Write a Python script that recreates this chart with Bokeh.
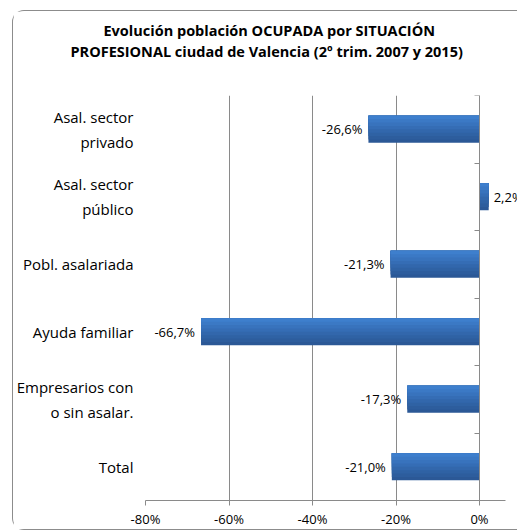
from bokeh.plotting import figure
from bokeh.models import (ColumnDataSource, FactorRange, Range1d, LinearAxis, FixedTicker,
                          PrintfTickFormatter, Title)
from bokeh.transform import dodge
from bokeh.embed import file_html
from bokeh.resources import INLINE

# ---- data (top-to-bottom order as in the chart) ----
categories = ["Asal. sector\nprivado", "Asal. sector\npúblico", "Pobl. asalariada",
              "Ayuda familiar", "Empresarios con\no sin asalar.", "Total"]
values = [-26.6, 2.2, -21.3, -66.7, -17.3, -21.0]
x_ticks = [-80, -60, -40, -20, 0]
title_lines = ["Evolución población OCUPADA por SITUACIÓN",
               "PROFESIONAL ciudad de Valencia (2º trim. 2007 y 2015)"]

FONT = "Open Sans"
GRID = "#8a8a8a"
BORDER = "1px solid #8c8c8c"

labels = [f"{v:.1f}".replace(".", ",") + "%" for v in values]
aligns = ["right" if v < 0 else "left" for v in values]
offs = [-6 if v < 0 else 5 for v in values]
src = ColumnDataSource(dict(cat=categories, val=values, lab=labels, al=aligns, off=offs))

p = figure(width=505, height=520, output_backend="svg", toolbar_location=None,
           y_range=FactorRange(*categories[::-1]), x_range=Range1d(-80, 9.34),
           min_border_left=132, min_border_right=0, min_border_top=84, min_border_bottom=31)
p.outline_line_color = None
p.background_fill_color = "white"
p.border_fill_color = "white"
p.styles = {"border-top": BORDER, "border-left": BORDER, "border-bottom": BORDER,
            "border-top-left-radius": "12px", "border-bottom-left-radius": "12px",
            "margin-left": "12px", "margin-top": "10px"}

# bars with a vertical gradient (overlapping strips, top colour drawn last)
shades = ["#3e7fcd", "#3b79c5", "#3873bd", "#356db5", "#3267ac", "#2f62a4", "#2d5d9d", "#2b5896"]
n = len(shades)
H = 0.4
for k in range(n - 1, -1, -1):
    hk = H * (k + 1) / n
    p.hbar(y=dodge("cat", H / 2 - hk / 2, range=p.y_range), right="val", left=0, height=hk,
           source=src, fill_color=shades[k], line_color=None)

p.text(x="val", y="cat", text="lab", source=src, text_align="al", x_offset="off",
       text_baseline="middle", text_font_size="13px", text_font={"value": FONT}, text_color="black")

# x axis
xa = p.xaxis[0]
xa.ticker = FixedTicker(ticks=x_ticks)
xa.formatter = PrintfTickFormatter(format="%d%%")
xa.bounds = (-80, 6.23)
xa.axis_line_color = GRID
xa.major_tick_line_color = GRID
xa.major_tick_in = 0
xa.major_tick_out = 5
xa.minor_tick_line_color = None
xa.major_label_text_font = FONT
xa.major_label_text_font_size = "13px"
xa.major_label_text_color = "black"
xa.major_label_standoff = 4

p.xgrid.grid_line_color = GRID
p.ygrid.grid_line_color = None

# category labels axis
ya = p.yaxis[0]
ya.axis_line_color = None
ya.major_tick_line_color = None
ya.major_label_text_font = FONT
ya.major_label_text_font_size = "15px"
ya.major_label_text_color = "black"
ya.major_label_text_line_height = 1.25
ya.major_label_text_align = "center"
ya.major_label_standoff = 6

# category axis line at 0 with ticks at the category boundaries
bticks = list(range(len(categories) + 1))
ax0 = LinearAxis(ticker=FixedTicker(ticks=bticks), fixed_location=0,
                 major_label_overrides={b: "" for b in bticks}, major_label_standoff=0,
                 major_tick_in=0, major_tick_out=5,
                 minor_tick_line_color=None, axis_line_color=GRID, major_tick_line_color=GRID)
p.add_layout(ax0, "left")

# blank spacer between plot area and title, then the two title lines
p.add_layout(Title(text=" ", standoff=15, text_font=FONT, text_font_size="13px"), "above")
for t, off in [(title_lines[1], -75), (title_lines[0], -42)]:
    p.add_layout(Title(text=t, align="left", offset=off, standoff=0, text_font=FONT,
                       text_font_style="bold", text_font_size="14.5px", text_color="black"), "above")

open("out.html", "w").write(file_html(p, INLINE))
